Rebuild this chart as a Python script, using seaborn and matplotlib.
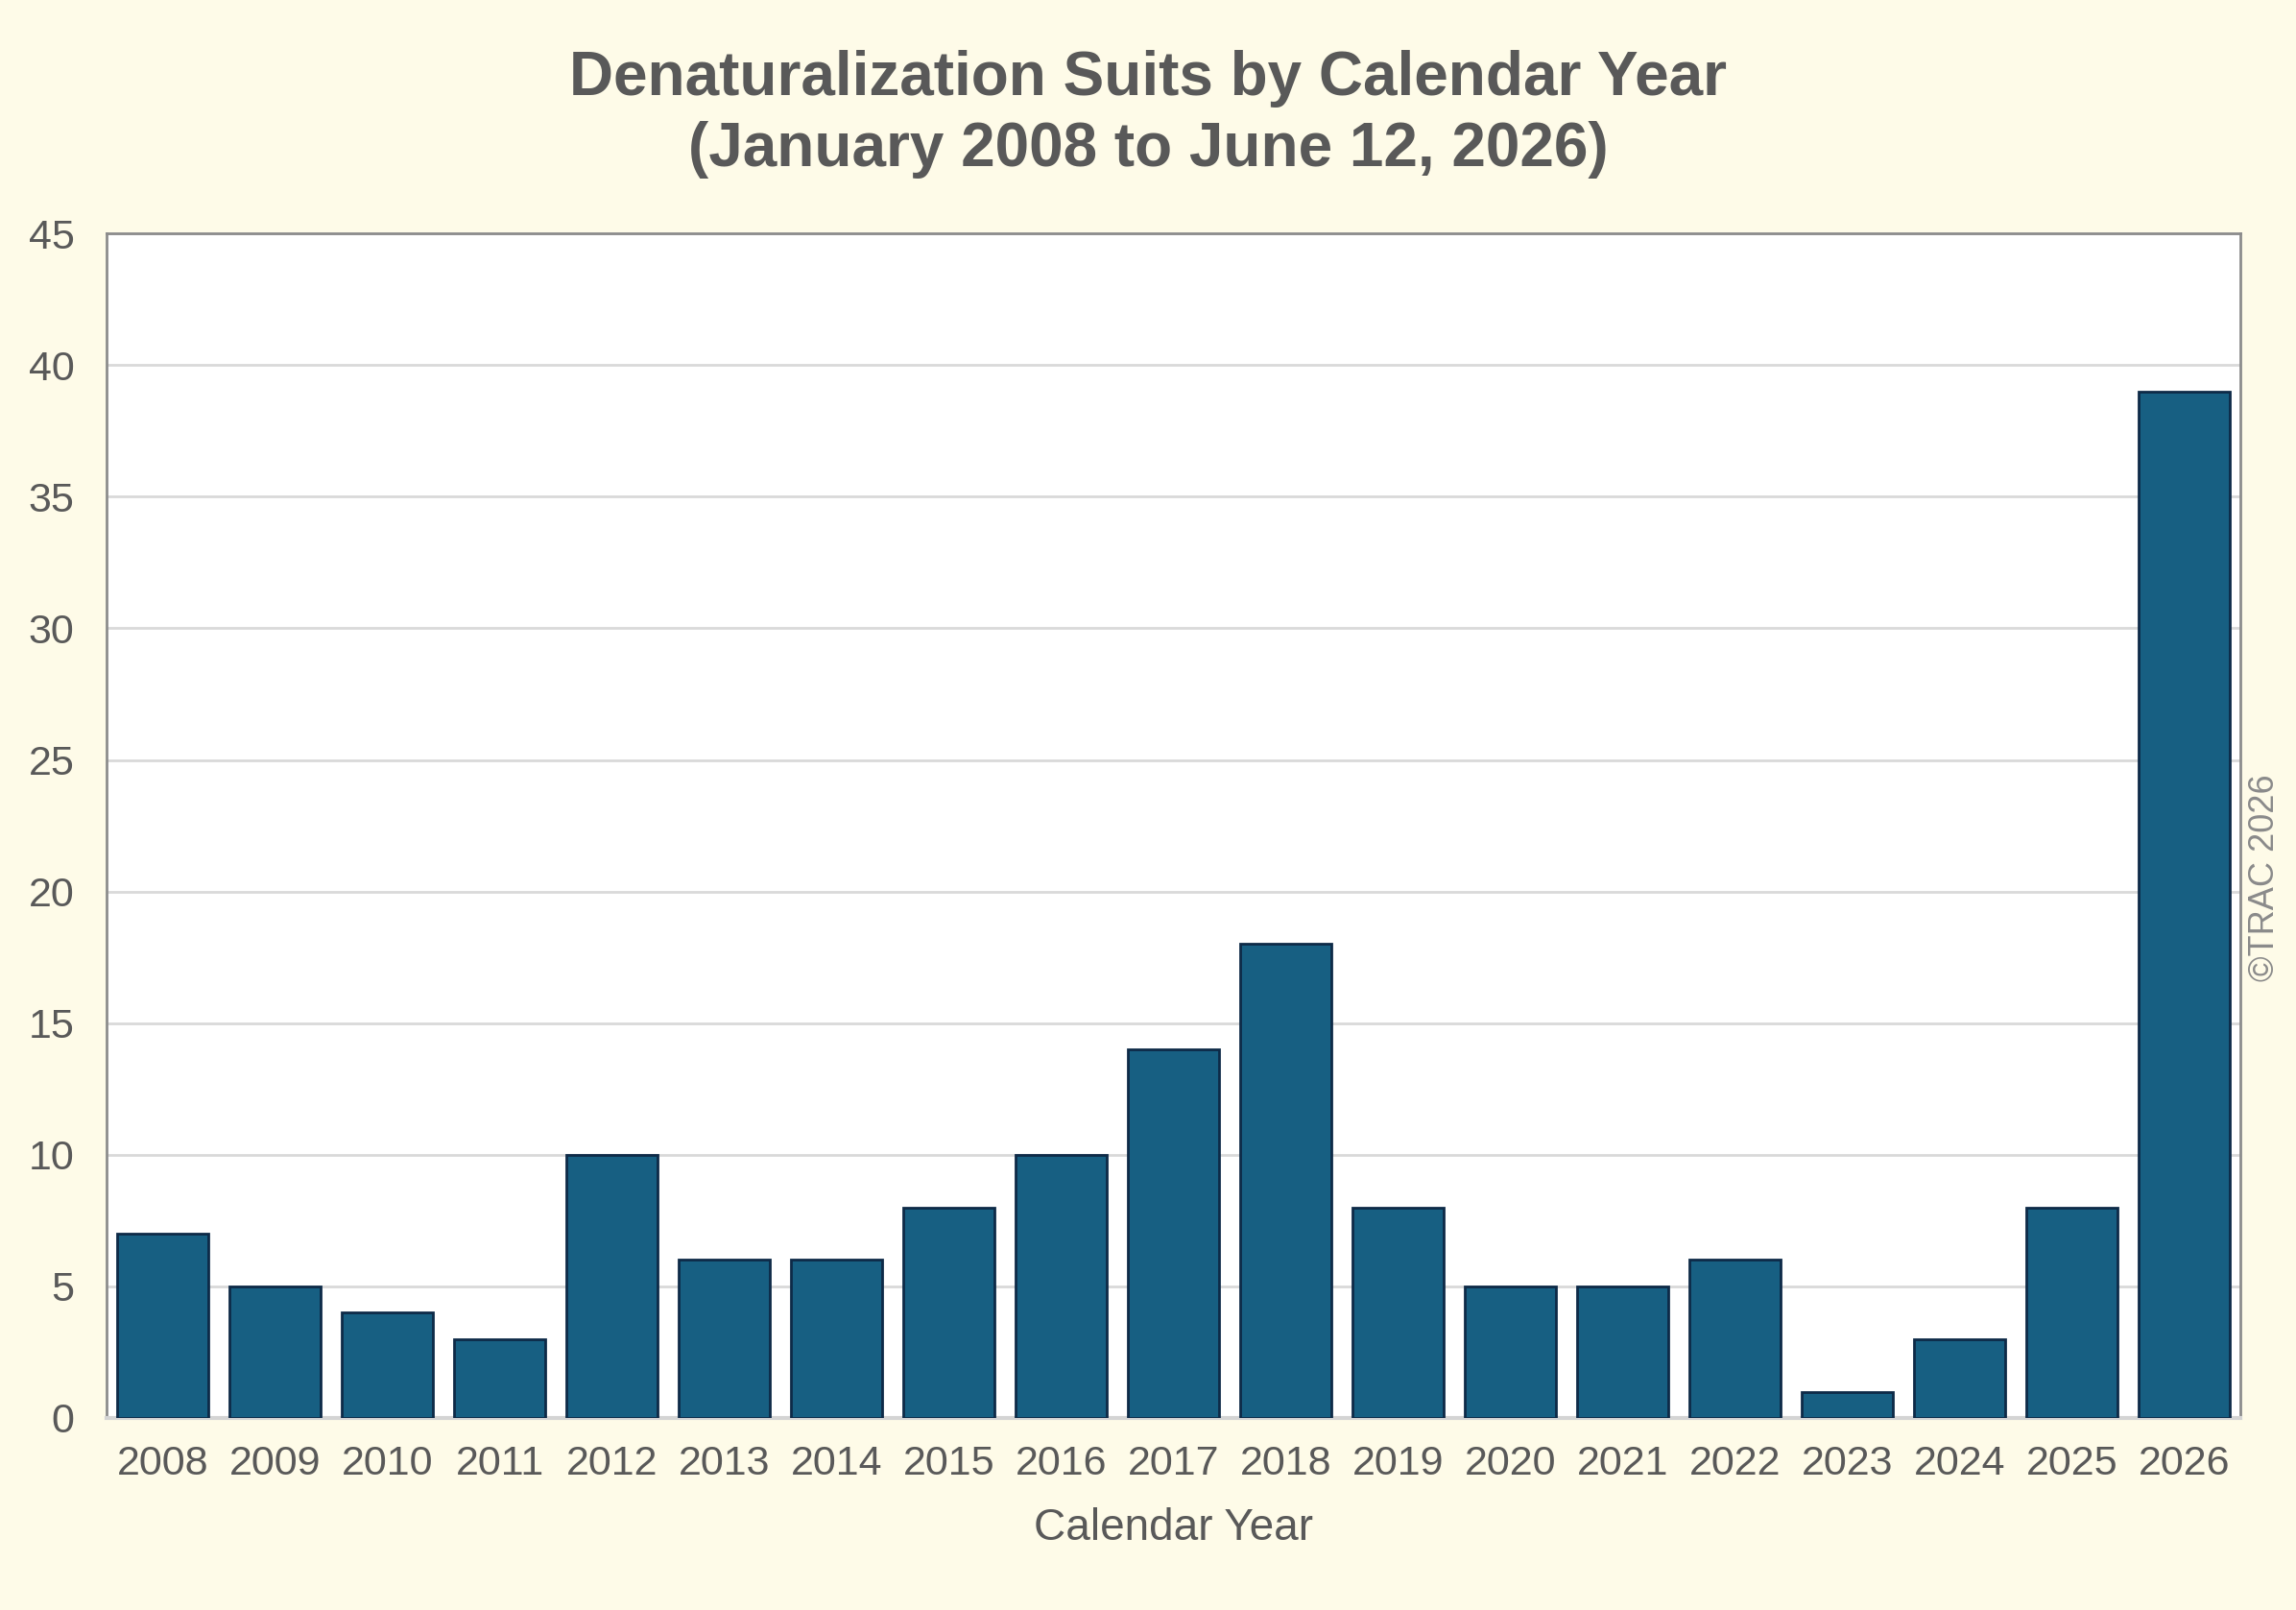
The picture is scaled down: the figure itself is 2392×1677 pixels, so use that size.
import numpy as np
import pandas as pd
import matplotlib
matplotlib.use("Agg")
import matplotlib.pyplot as plt
import seaborn as sns

years = [str(y) for y in range(2008, 2027)]
suits = [7, 5, 4, 3, 10, 6, 6, 8, 10, 14, 18, 8, 5, 5, 6, 1, 3, 8, 39]
y_ticks = [0, 5, 10, 15, 20, 25, 30, 35, 40, 45]

title_text = "Denaturalization Suits by Calendar Year\n(January 2008 to June 12, 2026)"
x_label = "Calendar Year"
credit = "©TRAC 2026"

bg = "#fefbe8"
bar_color = "#175f82"
edge_color = "#0e2a47"
text_color = "#595959"

sns.set_theme(style="white")
plt.rcParams["font.family"] = ["Liberation Sans", "DejaVu Sans"]

df = pd.DataFrame({"year": years, "suits": suits})

fig = plt.figure(figsize=(23.92, 16.77), dpi=100, facecolor=bg)
ax = fig.add_axes([0.0464, 0.1193, 0.9294, 0.7357])
ax.set_facecolor("white")

sns.barplot(data=df, x="year", y="suits", color=bar_color, width=0.81,
            edgecolor=edge_color, linewidth=2, saturation=1, ax=ax, zorder=3)

ax.set_xlim(-0.5, len(years) - 0.5)
ax.set_ylim(0, 45)
ax.set_yticks(y_ticks)
ax.yaxis.grid(True, color="#d9d9d9", linewidth=2, zorder=0)
ax.set_axisbelow(True)
ax.tick_params(axis="both", length=0, labelsize=31, colors=text_color)
ax.tick_params(axis="y", pad=24)
ax.tick_params(axis="x", pad=20)

for side in ["left", "top", "right"]:
    ax.spines[side].set_color("#8c8c8c")
    ax.spines[side].set_linewidth(2)
ax.spines["bottom"].set_color("#d4d4d4")
ax.spines["bottom"].set_linewidth(3)

ax.set_xlabel(x_label, fontsize=33, color=text_color, labelpad=18)
ax.set_ylabel("")

fig.text(0.5, 0.969, title_text, ha="center", va="top", fontsize=46,
         fontweight="bold", color=text_color, linespacing=1.3)
fig.text(0.9866, 0.455, credit, rotation=90, ha="center", va="center",
         fontsize=26, color="#8a8a8a")

fig.savefig("out.png", dpi=100, facecolor=bg)
